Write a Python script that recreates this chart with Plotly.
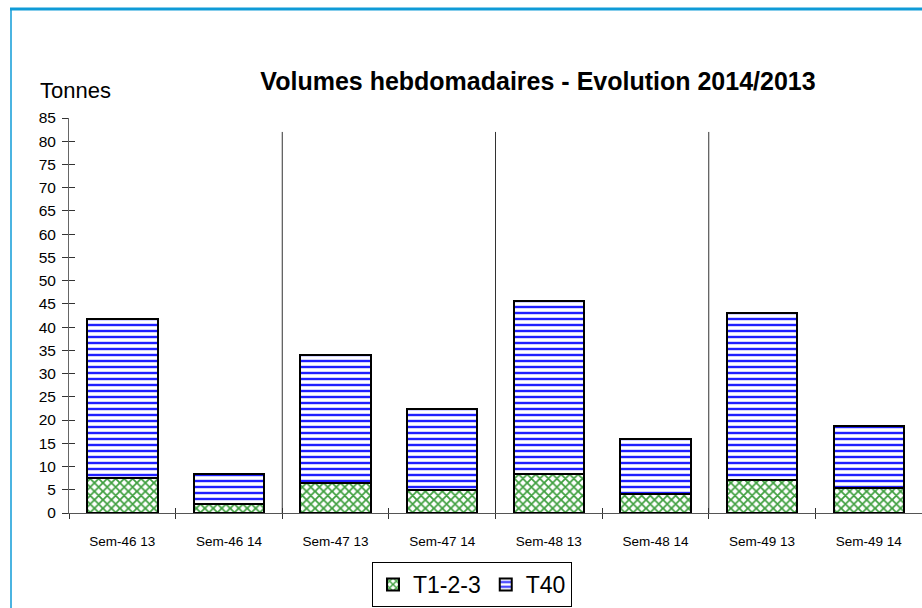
import plotly.graph_objects as go

categories = ["Sem-46 13", "Sem-46 14", "Sem-47 13", "Sem-47 14",
              "Sem-48 13", "Sem-48 14", "Sem-49 13", "Sem-49 14"]
t123 = [7.5, 1.9, 6.4, 5.0, 8.4, 4.0, 7.0, 5.3]
t40 = [34.2, 6.6, 27.6, 17.3, 37.3, 12.0, 36.0, 13.4]
series_names = ["T1-2-3", "T40"]
y_ticks = list(range(0, 90, 5))
week_separators = [1.5, 3.5, 5.5]
separator_top = 82

FONT = "Liberation Sans, Arial, sans-serif"

fig = go.Figure()
fig.add_trace(go.Bar(
    x=categories, y=t123, name=series_names[0], width=0.66,
    marker=dict(color="white", line=dict(color="black", width=2),
                pattern=dict(shape="x", fgcolor="#3f9f3f", bgcolor="white",
                             size=6, solidity=0.5, fgopacity=1)),
))
fig.add_trace(go.Bar(
    x=categories, y=t40, name=series_names[1], width=0.66,
    marker=dict(color="white", line=dict(color="black", width=2),
                pattern=dict(shape="-", fgcolor="#1f1fff", bgcolor="white",
                             size=6, solidity=0.4, fgopacity=1)),
))
# empty helper trace so that the overlay axes (crossing tick marks) are drawn
fig.add_trace(go.Scatter(x=[], y=[], xaxis="x2", yaxis="y2", showlegend=False,
                         hoverinfo="skip"))

shapes = []
for sx in week_separators:
    shapes.append(dict(type="line", xref="x", yref="y", x0=sx, x1=sx,
                       y0=0, y1=separator_top,
                       line=dict(color="#333333", width=1)))
# frame (blue top and left border)
L, T, PW, PH = 69, 118, 853, 395
def px_x(p):
    return (p - L) / PW
def px_y(p):
    return (T + PH - p) / PH
shapes.append(dict(type="line", xref="paper", yref="paper",
                   x0=px_x(10), x1=px_x(930), y0=px_y(9), y1=px_y(9),
                   line=dict(color="#0f9bd7", width=3)))
shapes.append(dict(type="line", xref="paper", yref="paper",
                   x0=px_x(11), x1=px_x(11), y0=px_y(9), y1=px_y(620),
                   line=dict(color="#0f9bd7", width=1.5)))

fig.update_layout(
    width=922, height=608,
    margin=dict(l=L, r=0, t=T, b=608 - T - PH, autoexpand=False),
    paper_bgcolor="white", plot_bgcolor="white",
    font=dict(family=FONT, color="black", size=15),
    barmode="stack",
    bargap=0.34,
    showlegend=True,
    title=dict(text="<b>Volumes hebdomadaires - Evolution 2014/2013</b>",
               font=dict(family=FONT, size=25, color="black"),
               x=px_x(538), xref="paper", xanchor="center",
               y=1 - 81 / 608, yref="container", yanchor="middle"),
    xaxis=dict(type="category", categoryorder="array", categoryarray=categories,
               range=[-0.5, 7.5], tickson="boundaries", ticks="outside",
               ticklen=5, tickcolor="#333333", showline=True,
               linecolor="#555555", linewidth=1, showgrid=False,
               tickfont=dict(size=13.5), zeroline=False, ticklabelstandoff=16),
    yaxis=dict(range=[0, 85], tickvals=y_ticks, ticks="outside", ticklen=6,
               tickcolor="#333333", showline=True, linecolor="#666666",
               linewidth=1, showgrid=False, zeroline=False,
               tickfont=dict(size=15.5), ticklabelstandoff=3),
    xaxis2=dict(overlaying="x", anchor="y2", range=[-0.5, 7.5],
                tickvals=[i - 0.5 for i in range(len(categories) + 1)],
                ticks="inside", ticklen=5, tickcolor="#333333",
                showticklabels=False, showgrid=False, zeroline=False,
                showline=False),
    yaxis2=dict(overlaying="y", anchor="x2", range=[0, 85], tickvals=y_ticks,
                ticks="inside", ticklen=6, tickcolor="#333333",
                showticklabels=False, showgrid=False, zeroline=False,
                showline=False),
    legend=dict(orientation="h", x=px_x(472), xanchor="center",
                y=px_y(562), yanchor="top", bordercolor="black", borderwidth=1,
                font=dict(size=23), bgcolor="white", traceorder="normal",
                itemwidth=30),
    shapes=shapes,
    annotations=[dict(text="Tonnes", xref="paper", yref="paper",
                      x=px_x(38), y=px_y(90), xanchor="left", yanchor="middle",
                      showarrow=False, font=dict(size=22))],
)

fig.write_html("out.html", config={"displayModeBar": False},
               post_script="document.body.style.margin='0';")
